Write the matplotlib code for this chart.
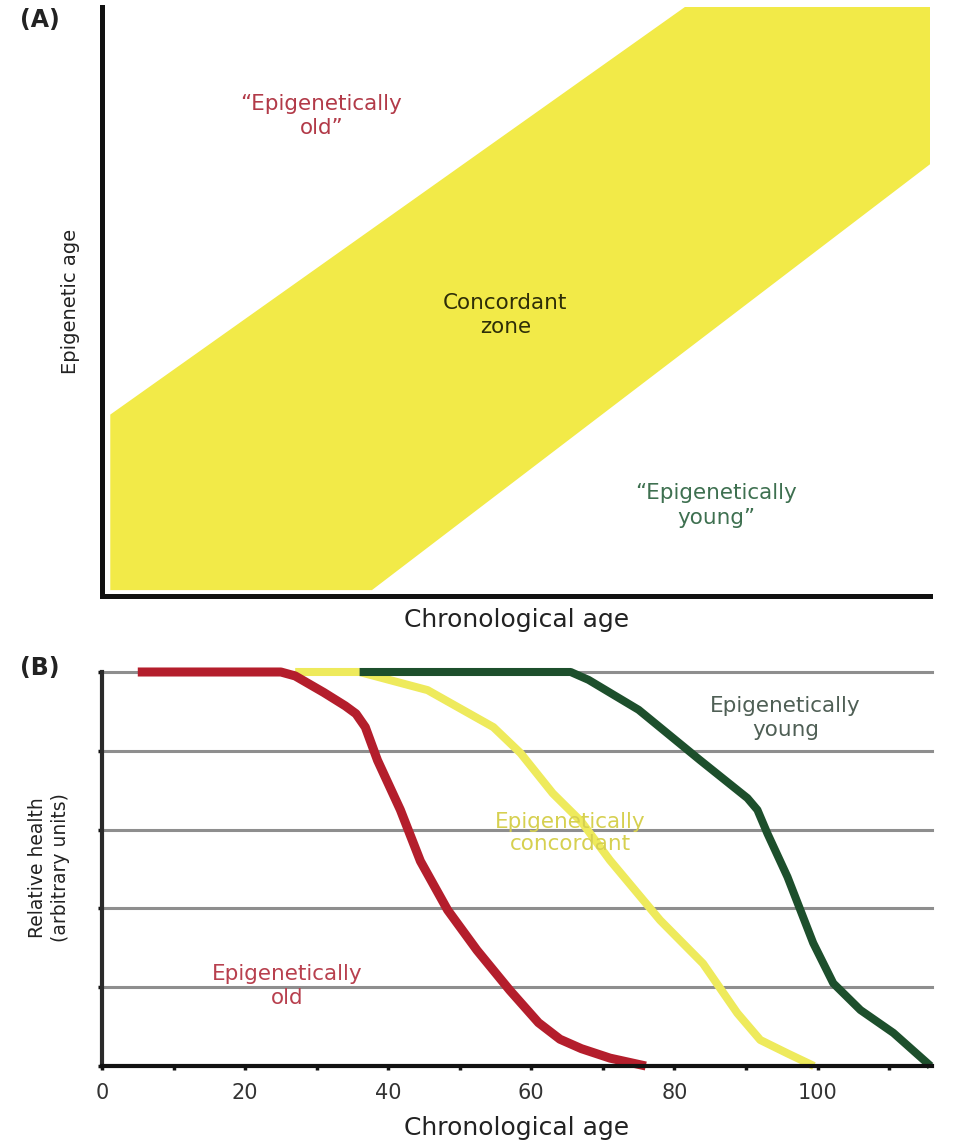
import matplotlib
matplotlib.use("Agg")
import matplotlib.pyplot as plt
from matplotlib.patches import Polygon

# ---------------- data ----------------
# Panel A: concordant zone outline (chronological age, epigenetic age), arbitrary 0-100 scale
band_x = [1, 1, 70.4, 100, 100, 32.6]
band_y = [1, 30.8, 100, 100, 73.3, 1]

# Panel B: relative health curves
red_age = [5, 25, 27, 31, 34, 35.5, 36.8, 38.5, 41.7, 44.5, 48.3, 52.4, 57, 61, 64, 67, 71, 76]
red_health = [5, 5, 4.95, 4.74, 4.57, 4.47, 4.3, 3.88, 3.25, 2.6, 1.98, 1.47, 0.96, 0.55, 0.34, 0.22, 0.1, 0]

yellow_age = [27, 36, 45.5, 54.7, 58.5, 63, 67, 71, 78, 84, 88.8, 92, 95.8, 99.5]
yellow_health = [5, 5, 4.77, 4.3, 3.97, 3.46, 3.1, 2.61, 1.85, 1.3, 0.67, 0.33, 0.16, 0]

green_age = [36, 65.5, 68, 75, 83.6, 90.2, 91.6, 93, 95.8, 99.4, 102.2, 106, 110.6, 115.8]
green_health = [5, 5, 4.9, 4.52, 3.88, 3.4, 3.25, 2.95, 2.4, 1.56, 1.05, 0.71, 0.42, 0]

xticks_major = [0, 20, 40, 60, 80, 100]
xticks_minor = [10, 30, 50, 70, 90, 110]
yticks = [0, 1, 2, 3, 4, 5]

# ---------------- figure ----------------
W, H = 960, 1145
fig = plt.figure(figsize=(W / 100, H / 100), dpi=100)
plt.rcParams['font.family'] = ['DejaVu Sans']


def fx(px):
    return px / W


def fy(py):
    return 1 - py / H


# ---------- Panel A ----------
axA = fig.add_axes([fx(102), fy(596), fx(930) - fx(102), fy(7) - fy(596)])
axA.set_xlim(0, 100)
axA.set_ylim(0, 100)
band_color = '#F2EA48'
axA.add_patch(Polygon(list(zip(band_x, band_y)), closed=True,
                      facecolor=band_color, edgecolor='none', zorder=1))
axA.set_xticks([])
axA.set_yticks([])
for s in ['top', 'right']:
    axA.spines[s].set_visible(False)
for s in ['left', 'bottom']:
    axA.spines[s].set_linewidth(3.6)
    axA.spines[s].set_color('#111111')

axA.text(0.265, 0.815, '\u201cEpigenetically\nold\u201d', transform=axA.transAxes,
         ha='center', va='center', fontsize=15.5, color='#B23A48', linespacing=1.3)
axA.text(0.487, 0.477, 'Concordant\nzone', transform=axA.transAxes,
         ha='center', va='center', fontsize=15.5, color='#2E2E08', linespacing=1.3)
axA.text(0.742, 0.153, '\u201cEpigenetically\nyoung\u201d', transform=axA.transAxes,
         ha='center', va='center', fontsize=15.5, color='#3E7050', linespacing=1.3)

fig.text(fx(70), fy(301), 'Epigenetic age', rotation=90, ha='center', va='center',
         fontsize=14, color='#222222')
fig.text(fx(517), fy(620), 'Chronological age', ha='center', va='center',
         fontsize=18, color='#222222')
fig.text(fx(40), fy(20), '(A)', ha='center', va='center', fontsize=17,
         fontweight='bold', color='#222222')

# ---------- Panel B ----------
axB = fig.add_axes([fx(102), fy(1066), fx(932) - fx(102), fy(672) - fy(1066)])
axB.set_xlim(0, 116)
axB.set_ylim(0, 5)
for yv in yticks[1:]:
    axB.axhline(yv, color='#8E8E8E', linewidth=2.2, zorder=1, clip_on=False)

axB.plot(yellow_age, yellow_health, color='#EEEA5C', linewidth=5.8,
         solid_joinstyle='round', solid_capstyle='butt', zorder=3, clip_on=False)
axB.plot(green_age, green_health, color='#1D4F2C', linewidth=5.8,
         solid_joinstyle='round', solid_capstyle='butt', zorder=4, clip_on=False)
axB.plot(red_age, red_health, color='#B41E2C', linewidth=6.5,
         solid_joinstyle='round', solid_capstyle='butt', zorder=5, clip_on=False)

for s in ['top', 'right']:
    axB.spines[s].set_visible(False)
axB.spines['left'].set_linewidth(3.0)
axB.spines['left'].set_color('#2a2a2a')
axB.spines['bottom'].set_linewidth(3.0)
axB.spines['bottom'].set_color('#111111')
axB.spines['bottom'].set_zorder(6)

axB.set_xticks(xticks_major)
axB.set_xticklabels([str(v) for v in xticks_major], fontsize=15, color='#333333')
axB.set_xticks(xticks_minor, minor=True)
axB.set_yticks(yticks)
axB.set_yticklabels([])
axB.tick_params(axis='both', which='both', direction='out', length=3, width=2.5,
                color='#111111')
axB.tick_params(axis='x', which='major', pad=9)

axB.text(95.5, 4.41, 'Epigenetically\nyoung', ha='center', va='center', fontsize=15.5,
         color='#4F5F55', linespacing=1.25)
axB.text(65.5, 2.96, 'Epigenetically\nconcordant', ha='center', va='center', fontsize=15.5,
         color='#D6D050', linespacing=1.15)
axB.text(25.9, 1.01, 'Epigenetically\nold', ha='center', va='center', fontsize=15.5,
         color='#B8404E', linespacing=1.25)

fig.text(fx(517), fy(1128), 'Chronological age', ha='center', va='center',
         fontsize=18, color='#222222')
fig.text(fx(49), fy(868), 'Relative health\n(arbitrary units)', rotation=90,
         ha='center', va='center', fontsize=13.5, color='#222222', linespacing=1.25)
fig.text(fx(40), fy(668), '(B)', ha='center', va='center', fontsize=17,
         fontweight='bold', color='#222222')

fig.savefig('out.png', dpi=100, facecolor='white')
